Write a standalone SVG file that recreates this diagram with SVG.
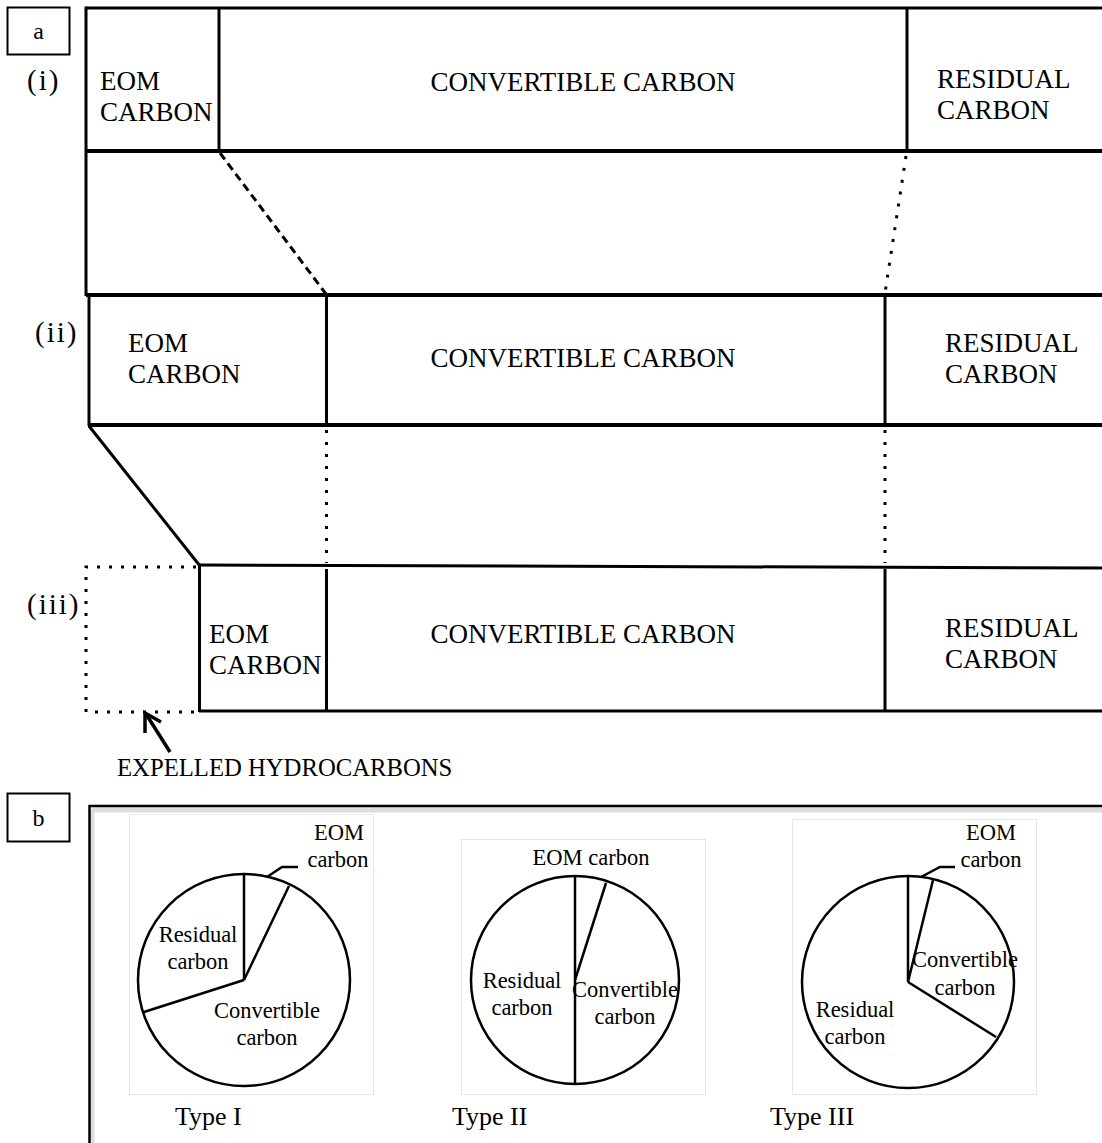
<svg xmlns="http://www.w3.org/2000/svg" width="1102" height="1143" viewBox="0 0 1102 1143">
<style>
text{font-family:"Liberation Serif","Times New Roman",serif;fill:#000}
.big{font-size:27px}
.lbl{font-size:29px;letter-spacing:2px}
.pie{font-size:22.5px}
.typ{font-size:26px}
.thick{stroke:#000;stroke-width:4;fill:none}
.mid{stroke:#000;stroke-width:3;fill:none}
.dot{stroke:#000;stroke-width:3;fill:none;stroke-dasharray:3 9}
.dash{stroke:#000;stroke-width:3;fill:none;stroke-dasharray:8 5}
.frame{stroke:#e6e6e6;stroke-width:1;fill:#fff}
.circ{stroke:#000;stroke-width:2.5;fill:#fff}
.pl{stroke:#000;stroke-width:2.5;fill:none}
</style>

<g id="label-a">
<rect x="7.5" y="7.5" width="62" height="47" fill="#fff" stroke="#000" stroke-width="2"/>
<text x="38.5" y="39" text-anchor="middle" font-size="24">a</text>
</g>
<g id="label-b">
<rect x="7.5" y="793.5" width="62" height="48" fill="#fff" stroke="#000" stroke-width="2"/>
<text x="38.5" y="826" text-anchor="middle" font-size="24">b</text>
</g>

<g id="roman-labels">
<text class="lbl" x="27" y="90">(i)</text>
<text class="lbl" x="35" y="342">(ii)</text>
<text class="lbl" x="27" y="614">(iii)</text>
</g>

<g id="panel-i">
<line class="mid" x1="86" y1="8" x2="1102" y2="8"/>
<line class="mid" x1="86" y1="6.5" x2="86" y2="296"/>
<line class="thick" x1="86" y1="151" x2="1102" y2="151"/>
<line class="mid" x1="219" y1="8" x2="219" y2="151"/>
<line class="mid" x1="907" y1="8" x2="907" y2="151"/>
<text class="big" x="100" y="90">EOM</text>
<text class="big" x="100" y="121">CARBON</text>
<text class="big" x="583" y="91" text-anchor="middle">CONVERTIBLE CARBON</text>
<text class="big" x="937" y="88">RESIDUAL</text>
<text class="big" x="937" y="119">CARBON</text>
</g>

<g id="panel-ii">
<line class="thick" x1="86" y1="295" x2="1102" y2="295"/>
<line class="mid" x1="89" y1="295" x2="89" y2="426"/>
<line class="thick" x1="88" y1="425" x2="1102" y2="425"/>
<line class="mid" x1="326.5" y1="295" x2="326.5" y2="425"/>
<line class="mid" x1="885" y1="295" x2="885" y2="425"/>
<text class="big" x="128" y="352">EOM</text>
<text class="big" x="128" y="383">CARBON</text>
<text class="big" x="583" y="367" text-anchor="middle">CONVERTIBLE CARBON</text>
<text class="big" x="945" y="352">RESIDUAL</text>
<text class="big" x="945" y="383">CARBON</text>
</g>

<g id="panel-iii">
<line class="mid" x1="199" y1="565" x2="1102" y2="568"/>
<line class="mid" x1="199.5" y1="565" x2="199.5" y2="712"/>
<line class="mid" x1="199" y1="711" x2="1102" y2="711"/>
<line class="mid" x1="326.5" y1="569" x2="326.5" y2="711"/>
<line class="mid" x1="885" y1="569" x2="885" y2="711"/>
<text class="big" x="209" y="643">EOM</text>
<text class="big" x="209" y="674">CARBON</text>
<text class="big" x="583" y="643" text-anchor="middle">CONVERTIBLE CARBON</text>
<text class="big" x="945" y="637">RESIDUAL</text>
<text class="big" x="945" y="668">CARBON</text>
</g>

<g id="expelled">
<path class="dot" d="M196 567 H86 V712 H196"/>
<text x="117" y="776" font-size="24.7">EXPELLED HYDROCARBONS</text>
</g>

<g id="connectors">
<line class="dash" x1="220" y1="153" x2="326" y2="294"/>
<line class="dot" x1="906" y1="156" x2="885" y2="293"/>
<line class="dot" x1="326.5" y1="430" x2="326.5" y2="563"/>
<line class="dot" x1="885" y1="430" x2="885" y2="563"/>
<line class="mid" x1="89" y1="426" x2="200" y2="566"/>
<line stroke="#000" stroke-width="3.5" x1="170" y1="752" x2="146" y2="714"/>
<polyline points="145,733 145,713 161,722" stroke="#000" stroke-width="3.5" fill="none"/>
</g>

<g id="panel-b">
<path d="M92 810 H1102 M92 810 V1143" stroke="#ddd" stroke-width="5" fill="none"/>
<path d="M89.5 1143 V806 H1102" stroke="#000" stroke-width="2.5" fill="none"/>
</g>

<g id="pie-type-i">
<rect class="frame" x="129.5" y="814.5" width="244" height="280"/>
<circle class="circ" cx="244" cy="980" r="106"/>
<polyline class="pl" points="244,874 244,980 289,886"/>
<line class="pl" x1="244" y1="980" x2="144" y2="1012"/>
<polyline class="pl" points="267,877 282,867 298,867"/>
<text class="pie" x="339" y="840" text-anchor="middle">EOM</text>
<text class="pie" x="338" y="867" text-anchor="middle">carbon</text>
<text class="pie" x="198" y="942" text-anchor="middle">Residual</text>
<text class="pie" x="198" y="969" text-anchor="middle">carbon</text>
<text class="pie" x="267" y="1018" text-anchor="middle">Convertible</text>
<text class="pie" x="267" y="1045" text-anchor="middle">carbon</text>
<text class="typ" x="175" y="1125">Type I</text>
</g>

<g id="pie-type-ii">
<rect class="frame" x="461.5" y="839.5" width="244" height="255"/>
<circle class="circ" cx="575" cy="980" r="104"/>
<line class="pl" x1="575" y1="876" x2="575" y2="1084"/>
<line class="pl" x1="575" y1="980" x2="606" y2="883"/>
<text class="pie" x="591" y="865" text-anchor="middle">EOM carbon</text>
<text class="pie" x="522" y="988" text-anchor="middle">Residual</text>
<text class="pie" x="522" y="1015" text-anchor="middle">carbon</text>
<text class="pie" x="625" y="997" text-anchor="middle">Convertible</text>
<text class="pie" x="625" y="1024" text-anchor="middle">carbon</text>
<text class="typ" x="452" y="1125">Type II</text>
</g>

<g id="pie-type-iii">
<rect class="frame" x="792.5" y="819.5" width="244" height="275"/>
<circle class="circ" cx="908" cy="982" r="106"/>
<polyline class="pl" points="908,876 908,982 933,880"/>
<line class="pl" x1="908" y1="982" x2="996" y2="1037"/>
<polyline class="pl" points="921,877 940,867 955,867"/>
<text class="pie" x="991" y="840" text-anchor="middle">EOM</text>
<text class="pie" x="991" y="867" text-anchor="middle">carbon</text>
<text class="pie" x="965" y="967" text-anchor="middle">Convertible</text>
<text class="pie" x="965" y="995" text-anchor="middle">carbon</text>
<text class="pie" x="855" y="1017" text-anchor="middle">Residual</text>
<text class="pie" x="855" y="1044" text-anchor="middle">carbon</text>
<text class="typ" x="770" y="1125">Type III</text>
</g>
</svg>
